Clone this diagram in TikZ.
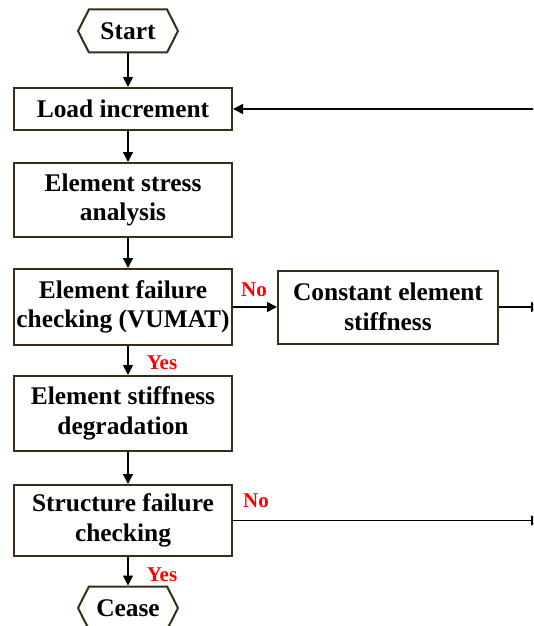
\documentclass[tikz,border=0pt]{standalone}
\usepackage{fontspec}
\setmainfont{Liberation Serif}
\usetikzlibrary{arrows.meta, shapes.symbols}
\definecolor{edgebrown}{RGB}{58,44,24}

\begin{document}
\begin{tikzpicture}[
                    x=1pt, y=-1pt,
                    every node/.style={font=\fontsize{25.4}{29.5}\selectfont\bfseries},
                    box/.style={draw=edgebrown, line width=2pt, fill=white, align=center, inner sep=0pt, minimum width=218pt},
                    term/.style={draw=edgebrown, line width=2pt, fill=white, signal, signal to=west and east,
                                 signal pointer angle=126, minimum width=100pt, minimum height=43pt, inner sep=0pt},
                    arr/.style={line width=1.5pt, -{Triangle[length=10pt,width=10pt]}},
                    lbl/.style={text=red, font=\fontsize{21}{24}\selectfont\bfseries}
                ]
  \useasboundingbox (0,0) rectangle (533,626);
  \clip (0,0) rectangle (533,626);

  \node[term] (start) at (128,31) {Start};
  \node[box, minimum height=42pt] (load) at (123,109) {Load increment};
  \node[box, minimum height=74pt] (stress) at (123,200) {Element stress\\analysis};
  \node[box, minimum height=76pt] (fail) at (123,307) {Element failure\\checking (VUMAT)};
  \node[box, minimum width=220pt, minimum height=73pt] (const) at (388,307) {Constant element\\stiffness};
  \node[box, minimum height=75pt] (degr) at (123,413.5) {Element stiffness\\degradation};
  \node[box, minimum height=71pt] (struct) at (123,520.5) {Structure failure\\checking};
  \node[term] (cease) at (128,608) {Cease};

  \node[lbl] (no1) at (254,290) {No};
  \node[lbl] (yes1) at (162,363) {Yes};
  \node[lbl] (no2) at (256,501) {No};
  \node[lbl] (yes2) at (162,575) {Yes};

  % main column and the loop back on the right
  \coordinate (col) at (128,0);
  \coordinate (r0) at (541,109);
  \coordinate (r1) at (541,307);
  \coordinate (r2) at (541,520.5);

  \draw[arr] (start.south) -- (col |- load.north);
  \draw[arr] (col |- load.south) -- (col |- stress.north);
  \draw[arr] (col |- stress.south) -- (col |- fail.north);
  \draw[arr] (col |- fail.south) -- (col |- degr.north);
  \draw[arr] (col |- degr.south) -- (col |- struct.north);
  \draw[arr] (col |- struct.south) -- (cease.north);
  \draw[arr] (fail.east) -- (const.west);
  \draw[arr] (const.east) -- (r1);
  \draw[arr] (struct.east) -- (r2);
  \draw[line width=1.5pt] (r2) -- (r0);
  \draw[arr] (r0) -- (load.east);
\end{tikzpicture}
\end{document}
